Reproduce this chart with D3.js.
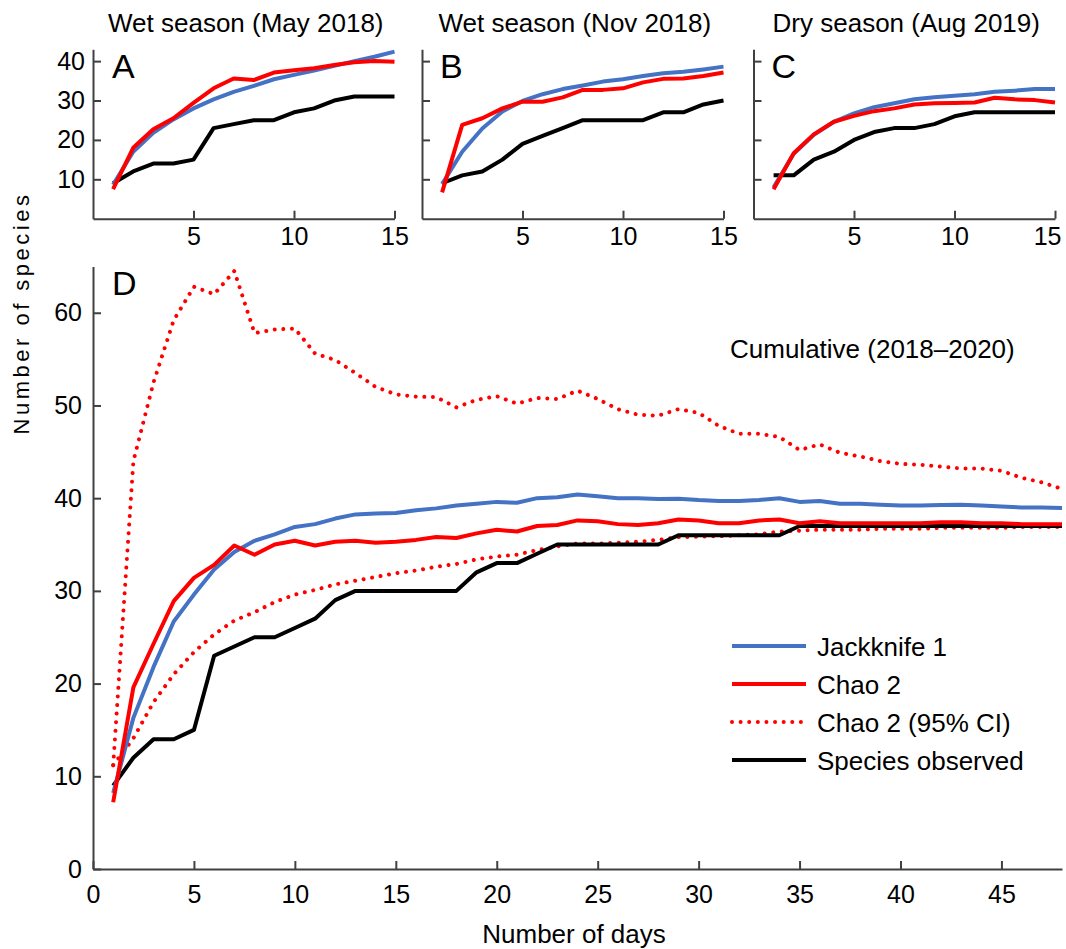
<!DOCTYPE html>
<html>
<head>
<meta charset="utf-8">
<script src="https://cdn.jsdelivr.net/npm/d3@7"></script>
<style>
  body { margin: 0; background: #fff; }
  svg { display: block; font-family: "Liberation Sans", Arial, sans-serif; }
  .axis path, .axis line { stroke: #404040; stroke-width: 2; }
  .axis text { font-size: 25px; fill: #000; font-family: "Liberation Sans", Arial, sans-serif; }
</style>
</head>
<body>
<svg id="canvas" width="1066" height="949"></svg>
<script>
// days of sampling
let daysSeason = [1, 2, 3, 4, 5, 6, 7, 8, 9, 10, 11, 12, 13, 14, 15]
let daysAll = [1, 2, 3, 4, 5, 6, 7, 8, 9, 10, 11, 12, 13, 14, 15, 16, 17, 18, 19, 20, 21, 22, 23, 24,
               25, 26, 27, 28, 29, 30, 31, 32, 33, 34, 35, 36, 37, 38, 39, 40, 41, 42, 43, 44, 45, 46, 47, 48]

// A - wet season May 2018
let aJack = [8.6, 17.0, 21.8, 25.2, 28.0, 30.3, 32.2, 33.7, 35.4, 36.5, 37.6, 38.8, 40.0, 41.1, 42.4]
let aChao = [7.5, 18.0, 22.7, 25.5, 29.4, 33.1, 35.6, 35.2, 37.1, 37.7, 38.2, 39.0, 39.7, 40.0, 39.85]
let aObs = [9, 12, 14, 14, 15, 23, 24, 25, 25, 27, 28, 30, 31, 31, 31]

// B - wet season Nov 2018
let bJack = [8.8, 17.0, 22.9, 27.2, 29.9, 31.6, 32.9, 33.8, 34.8, 35.4, 36.2, 36.9, 37.3, 37.9, 38.6]
let bChao = [6.7, 23.8, 25.5, 28.0, 29.7, 29.7, 30.8, 32.7, 32.7, 33.1, 34.6, 35.5, 35.6, 36.2, 37.1]
let bObs = [9, 11, 12, 15, 19, 21, 23, 25, 25, 25, 25, 27, 27, 29, 30]

// C - dry season Aug 2019
let cJack = [8.0, 16.5, 21.3, 24.6, 26.75, 28.3, 29.3, 30.3, 30.8, 31.2, 31.6, 32.2, 32.5, 32.9, 32.9]
let cChao = [7.5, 16.6, 21.4, 24.6, 26.1, 27.3, 28.0, 29.0, 29.3, 29.4, 29.5, 30.7, 30.3, 30.1, 29.5]
let cObs = [11, 11, 15, 17, 20, 22, 23, 23, 24, 26, 27, 27, 27, 27, 27]

// D - cumulative 2018-2020
let dJack = [8.2, 16.3, 21.8, 26.7, 29.6, 32.3, 34.2, 35.4, 36.1, 36.9, 37.2, 37.8, 38.25, 38.35, 38.4, 38.7,
             38.9, 39.2, 39.4, 39.6, 39.5, 40.0, 40.1, 40.4, 40.2, 40.0, 40.0, 39.9, 39.95, 39.8, 39.7, 39.7,
             39.8, 40.0, 39.6, 39.7, 39.4, 39.4, 39.3, 39.2, 39.2, 39.25, 39.3, 39.2, 39.1, 39.0, 39.0, 38.95]
let dChao = [7.2, 19.6, 24.3, 28.9, 31.4, 32.8, 34.9, 33.9, 35.0, 35.4, 34.9, 35.3, 35.4, 35.2, 35.3, 35.5,
             35.8, 35.7, 36.2, 36.6, 36.4, 37.0, 37.1, 37.6, 37.5, 37.2, 37.1, 37.3, 37.7, 37.6, 37.3, 37.3,
             37.6, 37.7, 37.3, 37.5, 37.3, 37.3, 37.3, 37.3, 37.3, 37.4, 37.4, 37.3, 37.3, 37.2, 37.2, 37.2]
let dChaoLow = [11.2, 14.1, 18.0, 21.0, 23.4, 25.3, 26.8, 27.7, 28.8, 29.6, 30.1, 30.7, 31.1, 31.5, 31.9, 32.2,
                32.6, 32.9, 33.4, 33.7, 33.9, 34.4, 34.8, 35.1, 35.1, 35.2, 35.3, 35.5, 35.8, 35.85, 35.9, 36.0,
                36.1, 36.4, 36.5, 36.6, 36.6, 36.6, 36.7, 36.7, 36.7, 36.8, 36.8, 36.8, 36.8, 36.9, 36.9, 36.9]
let dChaoHigh = [11.2, 44.0, 52.5, 59.2, 62.8, 62.0, 64.5, 57.8, 58.2, 58.3, 55.6, 54.9, 53.5, 52.0, 51.2, 50.95,
                 50.9, 49.8, 50.6, 51.0, 50.2, 50.8, 50.7, 51.6, 50.7, 49.6, 49.0, 48.9, 49.6, 49.2, 47.8, 46.95,
                 46.95, 46.6, 45.2, 45.8, 44.9, 44.5, 44.0, 43.7, 43.6, 43.4, 43.2, 43.2, 42.95, 42.2, 41.7, 41.0]
let dObs = [9, 12, 14, 14, 15, 23, 24, 25, 25, 26, 27, 29, 30, 30, 30, 30, 30, 30, 32, 33, 33, 34, 35, 35,
            35, 35, 35, 35, 36, 36, 36, 36, 36, 36, 37, 37, 37, 37, 37, 37, 37, 37, 37, 37, 37, 37, 37, 37]

let seasonTitles = ['Wet season (May 2018)', 'Wet season (Nov 2018)', 'Dry season (Aug 2019)']
let panelLetters = ['A', 'B', 'C', 'D']
let legendLabels = ['Jackknife 1', 'Chao 2', 'Chao 2 (95% CI)', 'Species observed']

let blue = '#4472c4'
let red = '#ff0000'

let canvas = d3.select('#canvas')

let drawSeries = (g, xScale, yScale, days, values, color, dotted) => {
  let line = d3.line()
               .x((d, i) => xScale(days[i]))
               .y((d) => yScale(d))
  let path = g.append('path')
              .datum(values)
              .attr('d', line)
              .attr('fill', 'none')
              .attr('stroke', color)
              .attr('stroke-width', 4)
              .attr('stroke-linejoin', 'round')
  if (dotted) {
    path.attr('stroke-dasharray', '0.01 8.6')
        .attr('stroke-linecap', 'round')
  }
}

// small season panels
let seasonPanels = [
  {left: 93, jack: aJack, chao: aChao, obs: aObs},
  {left: 422, jack: bJack, chao: bChao, obs: bObs},
  {left: 753.5, jack: cJack, chao: cChao, obs: cObs}
]

seasonPanels.forEach((panel, i) => {
  let xScale = d3.scaleLinear()
                 .domain([0, 15])
                 .range([panel.left, panel.left + 301.5])
  let yScale = d3.scaleLinear()
                 .domain([0, 43])
                 .range([218.7, 49.3])

  let g = canvas.append('g')

  let xAxis = g.append('g')
               .attr('class', 'axis')
               .attr('transform', 'translate(0, 218.7)')
               .call(d3.axisBottom(xScale).tickValues([5, 10, 15]).tickSizeInner(-8).tickSizeOuter(0).tickPadding(9))
  if (i === 2) {
    // last label kept inside the picture, as in the original
    xAxis.selectAll('.tick:last-of-type text')
         .attr('text-anchor', 'end')
         .attr('dx', 6)
  }
  g.append('g')
   .attr('class', 'axis')
   .attr('transform', 'translate(' + panel.left + ', 0)')
   .call(d3.axisLeft(yScale).tickValues([10, 20, 30, 40]).tickSizeInner(-8).tickSizeOuter(0).tickPadding(8)
           .tickFormat(i === 0 ? d3.format('d') : () => ''))

  g.append('text')
   .attr('x', xScale(7.6))
   .attr('y', 32)
   .attr('text-anchor', 'middle')
   .style('font-size', '26px')
   .text(seasonTitles[i])

  g.append('text')
   .attr('x', panel.left + (i === 0 ? 19 : 18))
   .attr('y', 78)
   .style('font-size', '34px')
   .text(panelLetters[i])

  drawSeries(g, xScale, yScale, daysSeason, panel.obs, '#000', false)
  drawSeries(g, xScale, yScale, daysSeason, panel.jack, blue, false)
  drawSeries(g, xScale, yScale, daysSeason, panel.chao, red, false)
})

// cumulative panel
let xD = d3.scaleLinear()
           .domain([0, 48])
           .range([93, 1062])
let yD = d3.scaleLinear()
           .domain([0, 65])
           .range([869, 266.4])

let gD = canvas.append('g')

gD.append('g')
  .attr('class', 'axis')
  .attr('transform', 'translate(0, 869)')
  .call(d3.axisBottom(xD).tickValues(d3.range(0, 46, 5)).tickSizeInner(-8).tickSizeOuter(0).tickPadding(16))
gD.append('g')
  .attr('class', 'axis')
  .attr('transform', 'translate(93, 0)')
  .call(d3.axisLeft(yD).tickValues(d3.range(0, 61, 10)).tickSizeInner(-8).tickSizeOuter(0).tickPadding(11))

gD.append('text')
  .attr('x', 112)
  .attr('y', 295)
  .style('font-size', '34px')
  .text(panelLetters[3])

gD.append('text')
  .attr('x', 730)
  .attr('y', 358)
  .style('font-size', '26px')
  .text('Cumulative (2018–2020)')

drawSeries(gD, xD, yD, daysAll, dChaoHigh, red, true)
drawSeries(gD, xD, yD, daysAll, dChaoLow, red, true)
drawSeries(gD, xD, yD, daysAll, dObs, '#000', false)
drawSeries(gD, xD, yD, daysAll, dJack, blue, false)
drawSeries(gD, xD, yD, daysAll, dChao, red, false)

// legend
let legendStyles = [
  {color: blue, dotted: false},
  {color: red, dotted: false},
  {color: red, dotted: true},
  {color: '#000', dotted: false}
]

let legend = canvas.append('g')
                   .selectAll('g')
                   .data(legendLabels)
                   .enter()
                   .append('g')
                   .attr('transform', (d, i) => 'translate(732, ' + (646 + i * 38) + ')')

legend.append('line')
      .attr('x1', 0)
      .attr('x2', 74)
      .attr('stroke', (d, i) => legendStyles[i].color)
      .attr('stroke-width', 4)
      .attr('stroke-linecap', (d, i) => legendStyles[i].dotted ? 'round' : 'butt')
      .attr('stroke-dasharray', (d, i) => legendStyles[i].dotted ? '0.01 8.6' : null)

legend.append('text')
      .attr('x', 85)
      .attr('y', 10)
      .style('font-size', '26px')
      .text((d) => d)

// axis titles
canvas.append('text')
      .attr('x', 574)
      .attr('y', 943)
      .attr('text-anchor', 'middle')
      .style('font-size', '26px')
      .text('Number of days')

canvas.append('text')
      .attr('transform', 'translate(28.5, 313) rotate(-90)')
      .attr('text-anchor', 'middle')
      .style('font-size', '22px')
      .style('letter-spacing', '3.5px')
      .text('Number of species')
</script>
</body>
</html>
